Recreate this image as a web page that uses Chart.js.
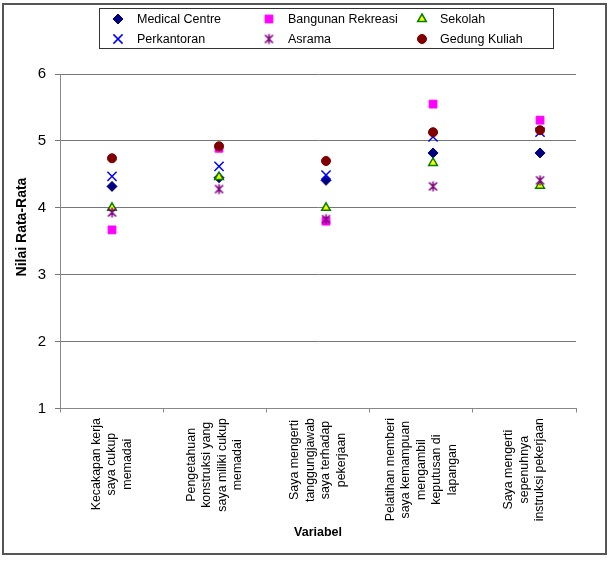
<!DOCTYPE html>
<html>
<head>
<meta charset="utf-8">
<title>Nilai Rata-Rata per Variabel</title>
<script src="https://cdn.jsdelivr.net/npm/chart.js@4.4.0/dist/chart.umd.min.js"></script>
<style>
  html, body { margin: 0; padding: 0; background: #fff; }
  #wrap { position: relative; width: 612px; height: 577px; }
</style>
</head>
<body>
<div id="wrap"><canvas id="chart"></canvas></div>
<script>
// ---- data ----
const categories = [
  ['Kecakapan kerja', 'saya cukup', 'memadai'],
  ['Pengetahuan', 'konstruksi yang', 'saya miliki cukup', 'memadai'],
  ['Saya mengerti', 'tanggungjawab', 'saya terhadap', 'pekerjaan'],
  ['Pelatihan memberi', 'saya kemampuan', 'mengambil', 'keputusan di', 'lapangan'],
  ['Saya mengerti', 'sepenuhnya', 'instruksi pekerjaan']
];
const yTicks = [1, 2, 3, 4, 5, 6];

const medicalCentre    = [4.32, 4.45, 4.41, 4.82, 4.82];
const bangunanRekreasi = [3.67, 4.89, 3.80, 5.55, 5.31];
const sekolah          = [4.00, 4.46, 4.00, 4.67, 4.33];
const perkantoran      = [4.47, 4.62, 4.49, 5.06, 5.13];
const asrama           = [3.93, 4.28, 3.83, 4.32, 4.41];
const gedungKuliah     = [4.74, 4.92, 4.70, 5.13, 5.16];

const FONT = "'Liberation Sans', Arial, sans-serif";
Chart.defaults.font.family = FONT;
Chart.defaults.color = '#000';

// Excel-style asterisk (X with a vertical bar) for the Asrama series
function asteriskMarker(color, r) {
  const size = Math.ceil(r * 2 + 3);
  const c = document.createElement('canvas');
  c.width = size; c.height = size;
  const g = c.getContext('2d');
  const m = size / 2, a = r * 0.8;
  g.strokeStyle = color;
  g.lineWidth = 1.6;
  g.beginPath();
  g.moveTo(m - a, m - a); g.lineTo(m + a, m + a);
  g.moveTo(m + a, m - a); g.lineTo(m - a, m + a);
  g.moveTo(m, m - r); g.lineTo(m, m + r);
  g.stroke();
  return c;
}

// series styles (legend order = Excel series order)
const series = [
  { label: 'Medical Centre',    data: medicalCentre,    style: 'rectRot',  r: 5,   bg: '#000080', bd: '#000080', bw: 1,   order: 6 },
  { label: 'Bangunan Rekreasi', data: bangunanRekreasi, style: 'rect',     r: 5.5, bg: '#FF00FF', bd: '#FF00FF', bw: 1,   order: 5 },
  { label: 'Sekolah',           data: sekolah,          style: 'triangle', r: 5,   bg: '#FFFF00', bd: '#008000', bw: 1.5, order: 4 },
  { label: 'Perkantoran',       data: perkantoran,      style: 'crossRot', r: 6.5, bg: '#0000FF', bd: '#0000FF', bw: 1.5, order: 3 },
  { label: 'Asrama',            data: asrama,           style: asteriskMarker('#800080', 5), r: 5, bg: '#800080', bd: '#800080', bw: 1.5, order: 2 },
  { label: 'Gedung Kuliah',     data: gedungKuliah,     style: 'circle',   r: 4.5, bg: '#800000', bd: '#800000', bw: 1,   order: 1 }
];

// ---- plugin: frame, legend box, y title, rotated x labels ----
const decor = {
  id: 'decor',
  beforeDraw(chart) {
    const ctx = chart.ctx;
    ctx.save();
    ctx.fillStyle = '#fff';
    ctx.fillRect(0, 0, chart.width, chart.height);
    ctx.restore();
  },
  afterDraw(chart) {
    const ctx = chart.ctx;
    ctx.save();

    // outer frame
    ctx.strokeStyle = '#555';
    ctx.lineWidth = 2;
    ctx.strokeRect(3, 4, 603, 550);

    // legend box
    ctx.strokeStyle = '#333';
    ctx.lineWidth = 1;
    ctx.strokeRect(99.5, 8.5, 454, 40);

    const colMarker = [118, 269, 422];
    const colText = [137, 288, 440];
    const rowY = [19, 39];
    ctx.font = '12.5px ' + FONT;
    ctx.textBaseline = 'middle';
    ctx.textAlign = 'left';
    series.forEach((s, i) => {
      const col = i % 3, row = Math.floor(i / 3);
      ctx.fillStyle = s.bg;
      ctx.strokeStyle = s.bd;
      ctx.lineWidth = s.bw;
      Chart.helpers.drawPoint(ctx, { pointStyle: s.style, radius: s.r, borderWidth: s.bw, rotation: 0 },
        colMarker[col], rowY[row]);
      ctx.fillStyle = '#000';
      ctx.fillText(s.label, colText[col], rowY[row] + 0.5);
    });

    // y axis title (sits a little above the plot middle in the original)
    ctx.save();
    ctx.font = 'bold 14px ' + FONT;
    ctx.fillStyle = '#000';
    ctx.textAlign = 'center';
    ctx.translate(22, 227);
    ctx.rotate(-Math.PI / 2);
    ctx.fillText('Nilai Rata-Rata', 0, 0);
    ctx.restore();

    // x category labels, rotated, lines centred on each other
    const xs = chart.scales.x;
    const lineH = 15.5;
    ctx.font = '12.4px ' + FONT;
    ctx.fillStyle = '#000';
    ctx.textAlign = 'center';
    categories.forEach((lines, i) => {
      const cx = xs.getPixelForValue(i);
      const longest = Math.max(...lines.map(l => ctx.measureText(l).width));
      const cy = xs.top + 9.5 + longest / 2;
      lines.forEach((line, k) => {
        ctx.save();
        ctx.translate(cx + (k - (lines.length - 1) / 2) * lineH, cy);
        ctx.rotate(-Math.PI / 2);
        ctx.fillText(line, 0, 0);
        ctx.restore();
      });
    });

    ctx.restore();
  }
};

// ---- chart ----
// the markers in the original sit on a slightly wider spacing than the
// category slots, so they are placed on their own hidden linear axis
new Chart(document.getElementById('chart'), {
  type: 'line',
  data: {
    labels: categories.map(c => c.join(' ')),
    datasets: series.map(s => ({
      label: s.label,
      data: s.data.map((v, i) => ({ x: i + 1, y: v })),
      xAxisID: 'xp',
      showLine: false,
      pointStyle: s.style,
      pointRadius: s.r,
      pointHoverRadius: s.r,
      pointBackgroundColor: s.bg,
      pointBorderColor: s.bd,
      pointBorderWidth: s.bw,
      backgroundColor: s.bg,
      borderColor: s.bd,
      order: s.order
    }))
  },
  options: {
    responsive: true,
    maintainAspectRatio: false,
    animation: false,
    layout: { padding: { left: 0, top: 74, right: 36, bottom: 0 } },
    plugins: {
      legend: { display: false },
      tooltip: { enabled: false }
    },
    scales: {
      x: {
        type: 'category',
        offset: true,
        ticks: { display: false },
        grid: { offset: true, drawOnChartArea: false, drawTicks: true, tickLength: 4, color: '#888' },
        border: { color: '#888' },
        title: {
          display: true,
          text: 'Variabel',
          font: { size: 12.5, weight: 'bold' },
          padding: { top: 0, bottom: 36.5 }
        },
        afterFit(scale) { scale.height = 168.5; }
      },
      xp: {
        type: 'linear',
        display: false,
        min: 0.514,
        max: 5.336
      },
      y: {
        min: yTicks[0],
        max: yTicks[yTicks.length - 1],
        afterBuildTicks(scale) { scale.ticks = yTicks.map(v => ({ value: v })); },
        ticks: { font: { size: 15 }, padding: 9 },
        grid: { color: '#777', tickLength: 5 },
        border: { color: '#888' },
        afterFit(scale) { scale.width = 60; }
      }
    }
  },
  plugins: [decor]
});
</script>
</body>
</html>
